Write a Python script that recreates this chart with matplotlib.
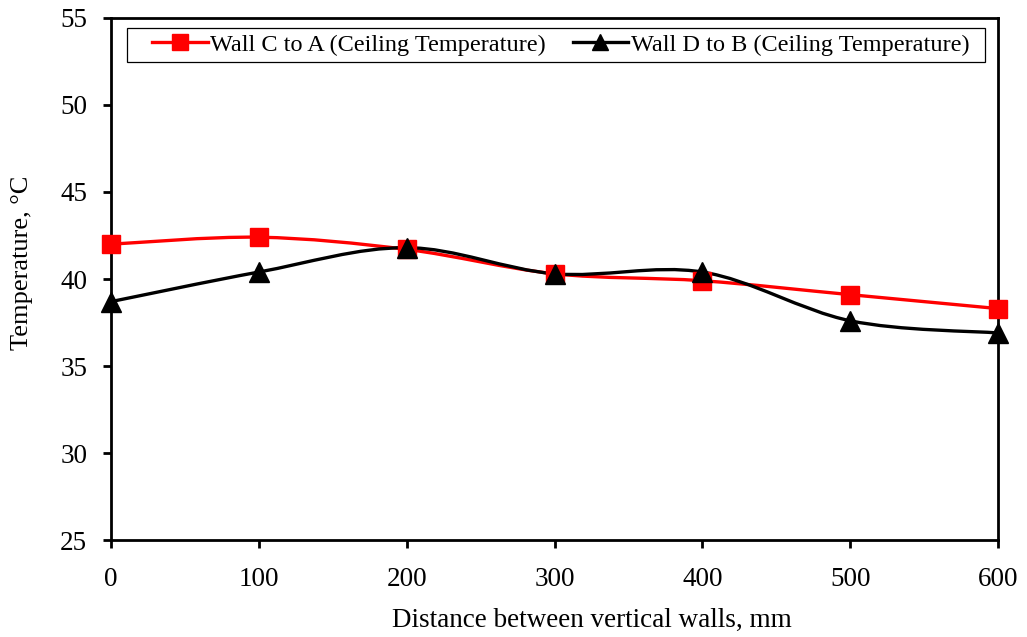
import numpy as np
import matplotlib.pyplot as plt
from matplotlib.path import Path
from matplotlib.patches import PathPatch, Rectangle
from matplotlib.lines import Line2D

plt.rcParams['font.family'] = ['Liberation Serif', 'DejaVu Serif']

distance = [0, 100, 200, 300, 400, 500, 600]
wall_c_to_a = [42.0, 42.4, 41.7, 40.3, 39.9, 39.1, 38.3]
wall_d_to_b = [38.7, 40.4, 41.8, 40.3, 40.4, 37.6, 36.9]

label_ca = 'Wall C to A (Ceiling Temperature)'
label_db = 'Wall D to B (Ceiling Temperature)'


def smooth_path(x, y):
    # cubic bezier through the points, spreadsheet-style smoothing
    p = np.column_stack([x, y]).astype(float)
    ext = np.vstack([p[0], p, p[-1]])
    verts = [p[0]]
    codes = [Path.MOVETO]
    for i in range(len(p) - 1):
        c1 = ext[i + 1] + (ext[i + 2] - ext[i]) / 6
        c2 = ext[i + 2] - (ext[i + 3] - ext[i + 1]) / 6
        verts += [c1, c2, ext[i + 2]]
        codes += [Path.CURVE4] * 3
    return Path(verts, codes)


fig = plt.figure(figsize=(10.27, 6.37), dpi=100)
ax = fig.add_axes([0.108, 0.152, 0.864, 0.82])

for y, color, marker, ms in [(wall_c_to_a, 'red', 's', 12.5),
                             (wall_d_to_b, 'black', '^', 14)]:
    ax.add_patch(PathPatch(smooth_path(distance, y), facecolor='none',
                           edgecolor=color, lw=2.4, zorder=2))
    ax.plot(distance, y, ls='none', marker=marker, color=color,
            markersize=ms, zorder=3, clip_on=False)

ax.set_xlim(0, 600)
ax.set_ylim(25, 55)
ax.set_xticks(range(0, 601, 100))
ax.set_yticks(range(25, 56, 5))
ax.tick_params(direction='out', length=6, width=2, labelsize=19.5)
ax.tick_params(axis='x', pad=13)
ax.tick_params(axis='y', pad=11)
for s in ax.spines.values():
    s.set_linewidth(2)

ax.set_xlabel('Distance between vertical walls, mm', fontsize=19.5)
ax.set_ylabel('Temperature, °C', fontsize=19)
ax.xaxis.set_label_coords(0.542, -0.13)
ax.yaxis.set_label_coords(-0.088, 0.531)

handles = [
    Line2D([], [], color='red', lw=2.4, marker='s', markersize=11),
    Line2D([], [], color='black', lw=2.4, marker='^', markersize=11),
]
leg = ax.legend(handles, [label_ca, label_db], loc='upper center', ncol=2,
                bbox_to_anchor=(0.5 + 6 / 887, 1),
                fontsize=17.5, frameon=False, handlelength=2.3,
                handletextpad=0.1, columnspacing=1.1, borderaxespad=0.4,
                borderpad=0.25)
leg.set_zorder(6)

# legend frame with wider side margins
fig.canvas.draw()
bb = leg.get_window_extent().transformed(fig.transFigure.inverted())
dl = 19 / fig.bbox.width
dr = 9 / fig.bbox.width
ax.add_patch(Rectangle((bb.x0 - dl, bb.y0), bb.width + dl + dr, bb.height,
                       transform=fig.transFigure, facecolor='white',
                       edgecolor='black', lw=0.9, zorder=5, clip_on=False))

fig.savefig('out.png', dpi=100)
